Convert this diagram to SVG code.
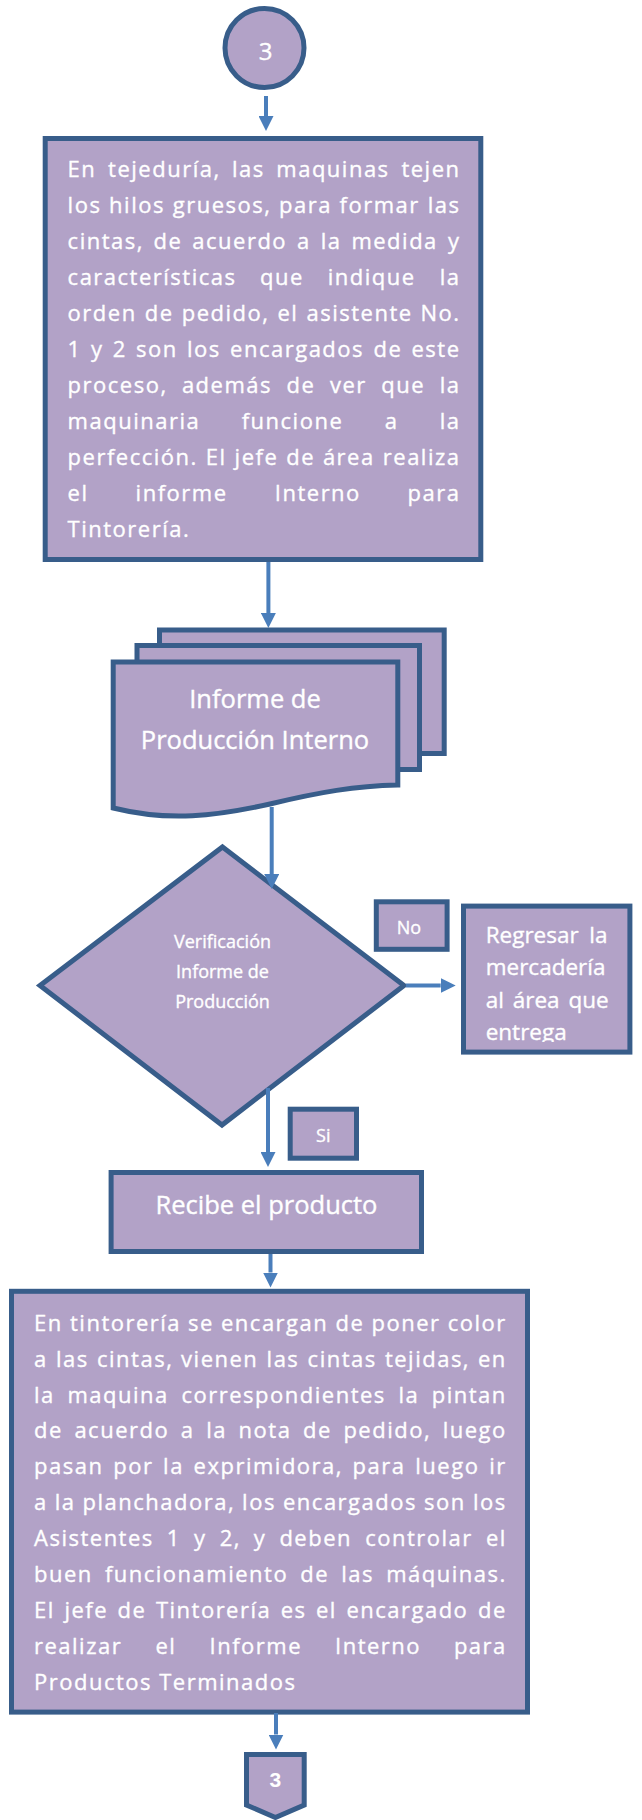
<svg xmlns="http://www.w3.org/2000/svg" width="642" height="1820" viewBox="0 0 642 1820">
<style>
.sh{fill:#b2a2c7;stroke:#385d8a;stroke-width:5;stroke-linejoin:miter}
.cn{fill:none;stroke:#4a7ebb;stroke-width:4;marker-end:url(#ah)}
.tx{font-family:"Open Sans","Liberation Sans",sans-serif;fill:#ffffff;stroke:#ffffff;stroke-width:0.35px}
.b{font-size:22px;letter-spacing:1.5px}
.e{text-anchor:end}
.m{text-anchor:middle}
</style>
<defs>
<marker id="ah" markerUnits="userSpaceOnUse" markerWidth="15" markerHeight="15" viewBox="0 0 15 15" refX="0" refY="7.5" orient="auto">
<path d="M0,0 L15,7.5 L0,15 Z" fill="#4a7ebb"/>
</marker>
<clipPath id="clipR"><rect x="465" y="908" width="163" height="134"/></clipPath>
</defs>
<rect width="642" height="1820" fill="#ffffff"/>

<g id="start">
<circle class="sh" cx="264.5" cy="48" r="39.5"/>
<text class="tx m" x="265.5" y="60" font-size="24">3</text>
</g>

<g id="tejeduria">
<rect class="sh" x="45.2" y="138.5" width="435.6" height="421"/>
<text class="tx b" y="177"><tspan x="67.6">En</tspan><tspan x="108.1">tejeduría,</tspan><tspan x="231.9">las</tspan><tspan x="276.3">maquinas</tspan><tspan class="e" x="460.5">tejen</tspan></text>
<text class="tx b" y="213"><tspan x="67.6">los</tspan><tspan x="109.1">hilos</tspan><tspan x="172.8">gruesos,</tspan><tspan x="279">para</tspan><tspan x="339.6">formar</tspan><tspan class="e" x="460.5">las</tspan></text>
<text class="tx b" y="249"><tspan x="67.6">cintas,</tspan><tspan x="153.5">de</tspan><tspan x="192.3">acuerdo</tspan><tspan x="297">a</tspan><tspan x="320.7">la</tspan><tspan x="351.4">medida</tspan><tspan class="e" x="460.5">y</tspan></text>
<text class="tx b" y="285"><tspan x="67.6">características</tspan><tspan x="260.1">que</tspan><tspan x="327.8">indique</tspan><tspan class="e" x="460.5">la</tspan></text>
<text class="tx b" y="321"><tspan x="67.6">orden</tspan><tspan x="144.8">de</tspan><tspan x="181.8">pedido,</tspan><tspan x="277.5">el</tspan><tspan x="306.5">asistente</tspan><tspan class="e" x="460.5">No.</tspan></text>
<text class="tx b" y="357"><tspan x="67.6">1</tspan><tspan x="90.9">y</tspan><tspan x="112.7">2</tspan><tspan x="136">son</tspan><tspan x="187">los</tspan><tspan x="230.1">encargados</tspan><tspan x="373.5">de</tspan><tspan class="e" x="460.5">este</tspan></text>
<text class="tx b" y="393"><tspan x="67.6">proceso,</tspan><tspan x="181.9">además</tspan><tspan x="286.6">de</tspan><tspan x="330">ver</tspan><tspan x="381.3">que</tspan><tspan class="e" x="460.5">la</tspan></text>
<text class="tx b" y="429"><tspan x="67.6">maquinaria</tspan><tspan x="241.7">funcione</tspan><tspan x="384.7">a</tspan><tspan class="e" x="460.5">la</tspan></text>
<text class="tx b" y="465"><tspan x="67.6">perfección.</tspan><tspan x="205.8">El</tspan><tspan x="234.6">jefe</tspan><tspan x="286.2">de</tspan><tspan x="322.9">área</tspan><tspan class="e" x="460.5">realiza</tspan></text>
<text class="tx b" y="501"><tspan x="67.6">el</tspan><tspan x="135.6">informe</tspan><tspan x="274.8">Interno</tspan><tspan class="e" x="460.5">para</tspan></text>
<text class="tx b" y="537" x="67.6">Tintorería.</text>
</g>

<g id="informe">
<path class="sh" d="M159.5,630 H444.2 V753.5 H159.5 Z"/>
<path class="sh" d="M137,645.5 H419.5 V769.5 H137 Z"/>
<path class="sh" d="M113.2,662 H397.8 V785 C355,786 320,792 270,804 C215,816 170,822 113.2,808 Z"/>
<text class="tx m" x="255" y="708" font-size="25.5">Informe de</text>
<text class="tx m" x="255" y="749" font-size="25.5">Producción Interno</text>
</g>

<g id="verificacion">
<path class="sh" d="M222.5,847 L404,985.5 L222,1125 L40,985.5 Z"/>
<text class="tx m" x="222.5" y="947.5" font-size="18">Verificación</text>
<text class="tx m" x="222.5" y="978" font-size="18">Informe de</text>
<text class="tx m" x="222.5" y="1008" font-size="18">Producción</text>
</g>

<g id="label-no">
<rect class="sh" x="376.3" y="901.8" width="70.8" height="47.5"/>
<text class="tx m" x="409" y="934" font-size="18">No</text>
</g>

<g id="regresar">
<rect class="sh" x="463.5" y="906.1" width="166.4" height="146"/>
<g clip-path="url(#clipR)">
<text class="tx" y="943" font-size="22.5"><tspan x="485.7">Regresar</tspan><tspan class="e" x="607.4">la</tspan></text>
<text class="tx" x="485.7" y="975.4" font-size="22.5">mercadería</text>
<text class="tx" y="1007.5" font-size="22.5"><tspan x="485.7">al</tspan><tspan x="512.7">área</tspan><tspan class="e" x="608.6">que</tspan></text>
<text class="tx" x="485.7" y="1039.6" font-size="22.5">entrega</text>
</g>
</g>

<g id="label-si">
<rect class="sh" x="290.2" y="1109.2" width="66.3" height="49"/>
<text class="tx m" x="323.3" y="1141.7" font-size="18">Si</text>
</g>

<g id="recibe">
<rect class="sh" x="111.1" y="1172.5" width="310.4" height="79"/>
<text class="tx m" x="266.5" y="1213.8" font-size="25.5">Recibe el producto</text>
</g>

<g id="tintoreria">
<rect class="sh" x="11.5" y="1291.3" width="516" height="420.8"/>
<text class="tx b" y="1330.7"><tspan x="34">En</tspan><tspan x="70">tintorería</tspan><tspan x="188.1">se</tspan><tspan x="221">encargan</tspan><tspan x="335.5">de</tspan><tspan x="371.5">poner</tspan><tspan class="e" x="506.8">color</tspan></text>
<text class="tx b" y="1366.6"><tspan x="34">a</tspan><tspan x="56">las</tspan><tspan x="97">cintas,</tspan><tspan x="181.1">vienen</tspan><tspan x="266.6">las</tspan><tspan x="307.6">cintas</tspan><tspan x="384.9">tejidas,</tspan><tspan class="e" x="506.8">en</tspan></text>
<text class="tx b" y="1402.5"><tspan x="34">la</tspan><tspan x="67.4">maquina</tspan><tspan x="181.5">correspondientes</tspan><tspan x="398.4">la</tspan><tspan class="e" x="506.8">pintan</tspan></text>
<text class="tx b" y="1438.4"><tspan x="34">de</tspan><tspan x="74.4">acuerdo</tspan><tspan x="180.8">a</tspan><tspan x="206.2">la</tspan><tspan x="238.6">nota</tspan><tspan x="303">de</tspan><tspan x="343.4">pedido,</tspan><tspan class="e" x="506.8">luego</tspan></text>
<text class="tx b" y="1474.3"><tspan x="34">pasan</tspan><tspan x="113.2">por</tspan><tspan x="163.1">la</tspan><tspan x="193.6">exprimidora,</tspan><tspan x="352.6">para</tspan><tspan x="415.3">luego</tspan><tspan class="e" x="506.8">ir</tspan></text>
<text class="tx b" y="1510.2"><tspan x="34">a</tspan><tspan x="54.8">la</tspan><tspan x="82.6">planchadora,</tspan><tspan x="242.1">los</tspan><tspan x="283">encargados</tspan><tspan x="424.1">son</tspan><tspan class="e" x="506.8">los</tspan></text>
<text class="tx b" y="1546.1"><tspan x="34">Asistentes</tspan><tspan x="166.8">1</tspan><tspan x="194">y</tspan><tspan x="219.7">2,</tspan><tspan x="253.8">y</tspan><tspan x="279.4">deben</tspan><tspan x="365.2">controlar</tspan><tspan class="e" x="506.8">el</tspan></text>
<text class="tx b" y="1582"><tspan x="34">buen</tspan><tspan x="104.9">funcionamiento</tspan><tspan x="300.3">de</tspan><tspan x="341.2">las</tspan><tspan class="e" x="506.8">máquinas.</tspan></text>
<text class="tx b" y="1617.9"><tspan x="34">El</tspan><tspan x="64.4">jefe</tspan><tspan x="117.6">de</tspan><tspan x="155.9">Tintorería</tspan><tspan x="280.7">es</tspan><tspan x="316">el</tspan><tspan x="346.4">encargado</tspan><tspan class="e" x="506.8">de</tspan></text>
<text class="tx b" y="1653.8"><tspan x="34">realizar</tspan><tspan x="155.5">el</tspan><tspan x="209.5">Informe</tspan><tspan x="335">Interno</tspan><tspan class="e" x="506.8">para</tspan></text>
<text class="tx b" x="34" y="1689.7">Productos Terminados</text>
</g>

<g id="end">
<path class="sh" d="M246.5,1754.5 H304.2 V1805 L275.4,1817.5 L246.5,1805 Z"/>
<text x="275.3" y="1786.7" text-anchor="middle" font-family="Liberation Sans, Arial, sans-serif" font-weight="bold" font-size="21" fill="#ffffff">3</text>
</g>

<g id="connectors">
<line class="cn" x1="266" y1="96" x2="266" y2="116"/>
<line class="cn" x1="268.4" y1="562" x2="268.4" y2="613"/>
<line class="cn" x1="271.7" y1="807" x2="271.7" y2="874"/>
<line class="cn" x1="406" y1="985.5" x2="440.7" y2="985.5"/>
<line class="cn" x1="268" y1="1088" x2="268" y2="1152"/>
<line class="cn" x1="270.5" y1="1254" x2="270.5" y2="1272.5"/>
<line class="cn" x1="276" y1="1713" x2="276" y2="1734.5"/>
</g>
</svg>
